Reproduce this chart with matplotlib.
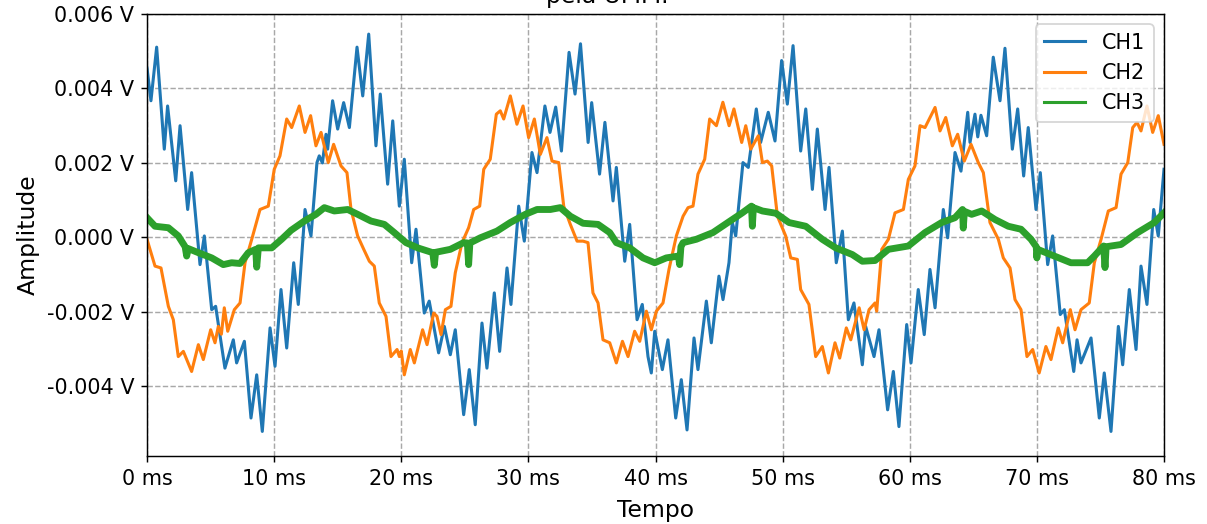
import matplotlib
matplotlib.use("Agg")
import matplotlib.pyplot as plt
import numpy as np
from matplotlib.ticker import FuncFormatter

# tempo em ms, tensões em mV (convertidas para V ao desenhar)
t_ch1 = [0.0, 0.31, 0.76, 1.36, 1.62, 2.26, 2.6, 3.2, 3.51, 4.17, 4.51, 5.09, 5.4, 6.13, 6.79, 7.05, 7.66, 8.18,
         8.63, 9.07, 9.68, 10.07, 10.54, 10.99, 11.54, 11.9, 12.43, 12.9, 13.37, 13.55, 13.8, 14.08, 14.21, 14.6,
         15.0, 15.47, 15.92, 16.52, 16.97, 17.44, 18.01, 18.35, 18.93, 19.33, 19.85, 20.24, 20.82, 21.16, 21.81,
         22.2, 22.94, 23.39, 23.86, 24.25, 24.91, 25.35, 25.82, 26.35, 26.74, 27.32, 27.74, 28.32, 28.63, 29.24,
         29.68, 30.28, 30.68, 31.3, 31.7, 32.15, 32.6, 33.2, 33.67, 34.1, 34.7, 34.98, 35.6, 36.02, 36.66, 36.92,
         37.58, 37.97, 38.55, 38.96, 39.41, 39.67, 39.94, 40.54, 40.98, 41.59, 42.03, 42.48, 43.03, 43.34, 44.0,
         44.39, 44.99, 45.31, 45.78, 46.04, 46.31, 46.88, 47.3, 47.93, 48.27, 48.87, 49.4, 49.92, 50.37, 50.82,
         51.42, 51.82, 52.34, 52.73, 53.34, 53.65, 54.22, 54.7, 55.17, 55.61, 56.27, 56.53, 57.19, 57.58, 58.26,
         58.71, 59.15, 59.76, 60.1, 60.67, 61.14, 61.59, 61.99, 62.64, 62.98, 63.56, 64.03, 64.56, 64.74, 65.13,
         65.35, 65.6, 66.05, 66.57, 67.1, 67.49, 68.07, 68.49, 68.96, 69.32, 69.93, 70.27, 70.85, 71.24, 71.84,
         72.16, 72.9, 73.16, 73.47, 74.26, 74.91, 75.3, 75.83, 76.41, 76.75, 77.27, 77.8, 78.19, 78.66, 79.19,
         79.55, 80.0]
ch1 = [4.55, 3.67, 5.11, 2.37, 3.53, 1.52, 3.0, 0.75, 1.74, -0.73, 0.04, -1.94, -1.85, -3.51, -2.75, -3.37, -2.79,
       -4.85, -3.69, -5.21, -2.43, -3.46, -1.4, -2.97, -0.68, -1.8, 0.75, 0.04, 2.01, 2.19, 2.0, 2.77, 2.37, 3.67,
       2.91, 3.62, 2.95, 5.11, 3.8, 5.46, 2.46, 3.85, 1.43, 3.13, 0.84, 2.1, -0.68, 0.22, -2.03, -1.71, -3.1, -2.39,
       -3.15, -2.48, -4.76, -3.55, -5.03, -2.3, -3.51, -1.49, -3.06, -0.82, -1.8, 0.84, -0.1, 2.28, 1.74, 3.53,
       2.82, 3.5, 2.32, 4.97, 3.85, 5.2, 2.55, 3.62, 1.7, 3.09, 0.98, 1.88, -0.64, 0.35, -2.21, -1.8, -3.2, -3.64,
       -2.52, -3.55, -2.75, -4.85, -3.82, -5.17, -2.7, -3.55, -1.71, -2.83, -1.04, -1.67, -0.68, 0.4, 0.04, 2.01,
       1.88, 3.45, 2.55, 3.36, 2.59, 4.75, 3.58, 5.15, 2.32, 3.45, 1.29, 2.91, 0.75, 1.88, -0.68, 0.17, -2.21,
       -1.76, -3.42, -2.39, -3.2, -2.48, -4.63, -3.6, -5.08, -2.34, -3.37, -1.4, -2.61, -0.86, -1.89, 0.75, -0.01,
       2.28, 1.78, 3.36, 2.55, 3.31, 2.7, 3.28, 2.73, 4.84, 3.67, 5.08, 2.37, 3.45, 1.65, 2.95, 0.75, 1.74, -0.73,
       0.04, -2.07, -1.94, -3.6, -2.75, -3.37, -2.7, -4.85, -3.64, -5.21, -2.39, -3.42, -1.4, -3.01, -0.77, -1.8,
       0.75, 0.04, 1.83]

t_ch2 = [0.0, 0.63, 1.1, 1.68, 2.07, 2.46, 2.86, 3.51, 4.04, 4.43, 5.01, 5.35, 5.61, 5.85, 6.08, 6.35, 6.87, 7.32,
         7.71, 8.24, 8.89, 9.54, 10.01, 10.46, 10.99, 11.38, 11.98, 12.43, 12.87, 13.29, 13.69, 14.26, 14.68, 15.26,
         15.73, 16.05, 16.57, 17.05, 17.49, 17.88, 18.27, 18.8, 19.19, 19.67, 19.85, 20.0, 20.24, 20.71, 21.03,
         21.68, 22.03, 22.55, 22.81, 23.13, 23.47, 23.91, 24.25, 24.78, 25.3, 25.7, 26.17, 26.49, 27.0, 27.48,
         27.79, 28.06, 28.58, 29.1, 29.58, 30.02, 30.47, 30.94, 31.46, 31.86, 32.39, 32.78, 33.3, 33.83, 34.3,
         34.69, 35.08, 35.48, 35.87, 36.4, 36.92, 37.4, 37.84, 38.36, 38.76, 39.28, 39.67, 40.07, 40.59, 41.06,
         41.64, 42.17, 42.56, 42.95, 43.34, 43.87, 44.26, 44.79, 45.3, 45.79, 46.17, 46.78, 47.1, 47.49, 48.09,
         48.41, 48.8, 49.14, 49.59, 50.24, 50.64, 51.16, 51.42, 52.07, 52.6, 53.12, 53.6, 54.12, 54.49, 55.01,
         55.36, 56.02, 56.41, 56.8, 57.27, 57.4, 57.8, 58.32, 58.84, 59.5, 59.89, 60.41, 60.81, 61.2, 61.99, 62.38,
         62.83, 63.35, 63.77, 64.29, 64.82, 65.39, 65.79, 66.31, 66.97, 67.36, 67.89, 68.28, 68.75, 69.22, 69.67,
         70.18, 70.71, 71.11, 71.68, 72.03, 72.63, 73.0, 73.47, 74.12, 74.52, 75.05, 75.62, 76.23, 76.62, 77.15,
         77.54, 77.88, 78.19, 78.66, 79.11, 79.55, 80.0]
ch2 = [-0.05, -0.77, -0.82, -1.85, -2.21, -3.2, -3.06, -3.6, -2.88, -3.28, -2.48, -2.83, -2.39, -2.6, -1.89, -2.52,
       -1.94, -1.76, -0.68, -0.05, 0.75, 0.84, 1.83, 2.19, 3.18, 2.95, 3.53, 2.82, 3.27, 2.46, 2.82, 2.01, 2.5, 1.92,
       1.74, 0.75, 0.04, -0.32, -0.64, -0.77, -1.76, -2.12, -3.2, -3.01, -3.2, -3.05, -3.69, -3.01, -3.37, -2.48,
       -2.88, -2.03, -2.12, -2.61, -1.94, -1.85, -0.95, -0.14, 0.26, 0.75, 0.84, 1.83, 2.1, 3.31, 3.4, 3.18, 3.8,
       3.04, 3.53, 2.68, 3.18, 2.23, 2.68, 2.05, 2.01, 0.84, 0.35, -0.1, -0.1, -0.14, -1.49, -1.76, -2.75, -2.83,
       -3.37, -2.79, -3.2, -2.52, -2.79, -1.98, -2.48, -1.98, -1.76, -0.86, 0.04, 0.57, 0.8, 0.84, 1.7, 2.1, 3.18,
       3.0, 3.63, 3.0, 3.45, 2.55, 3.0, 2.37, 2.73, 2.01, 2.05, 1.92, 0.57, 0.04, -0.55, -0.59, -1.4, -1.8, -3.2,
       -2.93, -3.64, -2.83, -3.24, -2.43, -2.75, -1.89, -2.48, -1.94, -1.76, -1.98, -0.32, -0.05, 0.66, 0.75, 1.56,
       1.92, 3.0, 2.95, 3.49, 2.86, 3.22, 2.46, 2.77, 2.05, 2.5, 2.01, 1.74, 0.4, -0.05, -0.55, -0.82, -1.67, -1.94,
       -3.2, -3.01, -3.64, -2.93, -3.28, -2.43, -2.83, -1.94, -2.48, -1.94, -1.76, -0.68, -0.05, 0.71, 0.8, 1.7,
       2.01, 2.95, 3.09, 2.86, 3.53, 2.82, 3.27, 2.5]

t_ch3 = [0.0, 0.63, 1.68, 2.46, 3.0, 3.12, 3.25, 4.04, 5.09, 6.0, 6.66, 7.32, 7.97, 8.55, 8.63, 8.76, 9.81, 10.59,
         11.33, 12.38, 13.29, 13.95, 14.73, 15.79, 16.57, 17.62, 18.67, 19.45, 20.37, 21.29, 22.48, 22.6, 22.7,
         23.86, 24.91, 25.2, 25.3, 25.4, 26.22, 27.53, 28.58, 29.76, 30.68, 31.73, 32.51, 33.3, 34.3, 35.48, 36.4,
         36.92, 37.97, 39.02, 39.94, 40.85, 41.8, 41.9, 42.0, 42.17, 43.21, 44.52, 45.78, 46.83, 47.55, 47.62,
         47.7, 48.41, 49.46, 50.5, 51.82, 53.12, 54.17, 55.48, 56.27, 57.27, 58.32, 59.89, 61.2, 62.51, 63.56,
         64.15, 64.21, 64.3, 64.87, 65.66, 66.71, 67.75, 68.75, 69.54, 69.95, 70.0, 70.06, 71.37, 72.68, 73.99,
         74.52, 75.25, 75.36, 75.45, 76.62, 77.93, 79.24, 80.0]
ch3 = [0.53, 0.3, 0.26, 0.04, -0.25, -0.5, -0.3, -0.41, -0.55, -0.73, -0.68, -0.7, -0.41, -0.32, -0.8, -0.28,
       -0.28, -0.05, 0.19, 0.44, 0.62, 0.8, 0.71, 0.75, 0.62, 0.44, 0.35, 0.13, -0.14, -0.28, -0.41, -0.75, -0.4,
       -0.32, -0.14, -0.15, -0.73, -0.15, -0.01, 0.17, 0.4, 0.62, 0.75, 0.75, 0.8, 0.57, 0.38, 0.35, 0.13, -0.14,
       -0.28, -0.55, -0.68, -0.55, -0.5, -0.73, -0.25, -0.14, -0.05, 0.13, 0.42, 0.66, 0.84, 0.3, 0.8, 0.71, 0.65,
       0.4, 0.3, -0.05, -0.28, -0.46, -0.64, -0.62, -0.32, -0.23, 0.13, 0.4, 0.53, 0.75, 0.25, 0.7, 0.62, 0.71,
       0.48, 0.3, 0.22, -0.05, -0.25, -0.55, -0.32, -0.5, -0.68, -0.68, -0.5, -0.23, -0.81, -0.25, -0.19, 0.13, 0.4,
       0.66]

canais = ["CH1", "CH2", "CH3"]

DPI = 130


def plot_canais(ax):
    series = [(t_ch1, ch1), (t_ch2, ch2), (t_ch3, ch3)]
    # CH3 é ruidoso: traço mais grosso para a faixa de ruído
    larguras = [1.7, 1.7, 3.8]
    for (t, v), nome, lw in zip(series, canais, larguras):
        ax.plot(t, np.array(v) * 1e-3, label=nome, linewidth=lw)

    leg = ax.legend(loc="upper right", fontsize=11.5)
    for h in leg.legend_handles:
        h.set_linewidth(1.7)


def main():
    fig = plt.figure(figsize=(1207 / DPI, 524 / DPI), dpi=DPI)
    ax = fig.add_axes([147 / 1207, 1 - 456 / 524, (1164 - 147) / 1207, (456 - 14) / 524])

    plot_canais(ax)

    ax.set_xlim(0, 80)
    ax.set_ylim(-0.00587, 0.006)
    ax.set_yticks([-0.004, -0.002, 0.0, 0.002, 0.004, 0.006])
    ax.xaxis.set_major_formatter(FuncFormatter(lambda x, p: "%.0f ms" % x))
    ax.yaxis.set_major_formatter(FuncFormatter(lambda y, p: "%.3f V" % y))
    ax.tick_params(labelsize=11.5)
    ax.grid(True, linestyle="--", color="#a8a8a8", linewidth=0.8)

    ax.set_xlabel("Tempo", fontsize=13, labelpad=6)
    ax.set_ylabel("Amplitude", fontsize=13)
    # título centrado na figura, não no eixo
    ax.set_title("Sinais de tensão nos três canais\npela UMM.", fontsize=13, x=(607 - 147) / 1017)

    fig.savefig("out.png", dpi=DPI)


if __name__ == '__main__':
    main()
